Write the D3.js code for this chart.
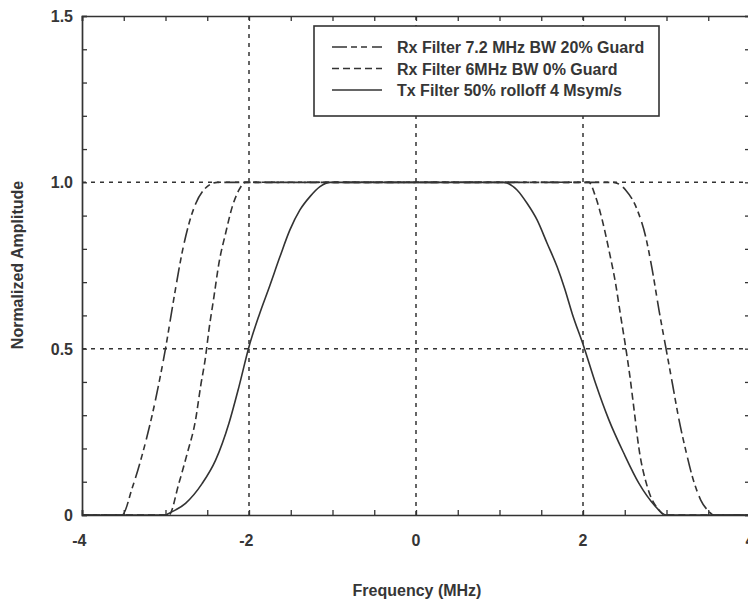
<!DOCTYPE html>
<meta charset="utf-8">
<script src="https://d3js.org/d3.v7.min.js"></script>
<style>
  body { margin: 0; background: #fff; }
  text { font-family: "Liberation Sans", Arial, sans-serif; fill: #363636; }
</style>
<div id="chart"></div>
<script>
  // data: [frequency MHz, normalized amplitude]
  var rx72 = [[-4, 0], [-3.52, 0], [-3.40, 0.08], [-3.28, 0.18], [-3.16, 0.30], [-3.06, 0.42], [-3.00, 0.50],
    [-2.94, 0.59], [-2.88, 0.68], [-2.80, 0.79], [-2.72, 0.875], [-2.64, 0.935], [-2.52, 0.983], [-2.38, 1.0],
    [2.36, 1.0], [2.51, 0.977], [2.65, 0.917], [2.75, 0.837], [2.83, 0.736], [2.91, 0.616], [2.99, 0.506],
    [3.07, 0.396], [3.15, 0.286], [3.23, 0.195], [3.31, 0.115], [3.41, 0.045], [3.51, 0.010], [3.56, 0], [4, 0]];
  var rx6 = [[-4, 0], [-2.96, 0], [-2.84, 0.095], [-2.74, 0.185], [-2.64, 0.286], [-2.58, 0.386], [-2.52, 0.476],
    [-2.48, 0.556], [-2.42, 0.656], [-2.36, 0.757], [-2.28, 0.847], [-2.20, 0.927], [-2.12, 0.977], [-2.04, 1.0],
    [2.07, 1.0], [2.15, 0.957], [2.23, 0.887], [2.31, 0.797], [2.39, 0.696], [2.45, 0.60], [2.51, 0.506],
    [2.56, 0.42], [2.61, 0.32], [2.67, 0.20], [2.77, 0.085], [2.91, 0.015], [2.98, 0], [4, 0]];
  var tx = [[-4, 0], [-3.0, 0], [-2.96, 0.005], [-2.76, 0.035], [-2.56, 0.095], [-2.40, 0.165], [-2.24, 0.276],
    [-2.12, 0.386], [-2.00, 0.506], [-1.88, 0.60], [-1.75, 0.69], [-1.63, 0.776], [-1.51, 0.857], [-1.39, 0.917],
    [-1.27, 0.957], [-1.15, 0.987], [-1.03, 1.0], [1.05, 1.0], [1.21, 0.977], [1.33, 0.937], [1.45, 0.887],
    [1.57, 0.817], [1.69, 0.746], [1.78, 0.681], [1.87, 0.606], [2.01, 0.506], [2.15, 0.396], [2.31, 0.286],
    [2.49, 0.185], [2.67, 0.095], [2.87, 0.025], [2.95, 0.005], [3.0, 0], [4, 0]];

  var seriesNames = ["Rx Filter 7.2 MHz BW 20% Guard", "Rx Filter 6MHz BW 0% Guard", "Tx Filter 50% rolloff 4 Msym/s"];
  var seriesDash = ["15,4,6,4,6,5", "7,4", null];

  var xTicks = [-4, -2, 0, 2, 4];
  var xTickLabels = ["-4", "-2", "0", "2", "4"];
  var yTicks = [0, 0.5, 1.0, 1.5];
  var yTickLabels = ["0", "0.5", "1.0", "1.5"];
  var xGrid = [-2, 0, 2];
  var yGrid = [0.5, 1.0];

  var width = 748, height = 601;
  var margin = { top: 16, left: 82 };
  var plotW = 668, plotH = 499;

  var svg = d3.select("#chart").append("svg")
    .attr("width", width)
    .attr("height", height);

  var x = d3.scaleLinear().domain([-4, 4]).range([margin.left, margin.left + plotW]);
  var y = d3.scaleLinear().domain([0, 1.5]).range([margin.top + plotH, margin.top]);

  var ink = "#333";

  // grid lines
  svg.append("g").selectAll("line").data(xGrid).enter().append("line")
    .attr("x1", function (d) { return x(d); }).attr("x2", function (d) { return x(d); })
    .attr("y1", y(0)).attr("y2", y(1.5))
    .style("stroke", ink).style("stroke-width", 1.5).style("stroke-dasharray", "4,5");
  svg.append("g").selectAll("line").data(yGrid).enter().append("line")
    .attr("y1", function (d) { return y(d); }).attr("y2", function (d) { return y(d); })
    .attr("x1", x(-4)).attr("x2", x(4))
    .style("stroke", ink).style("stroke-width", 1.5).style("stroke-dasharray", "4,5");

  // minor tick axes, ticks pointing inward
  var xMinor = d3.range(-4, 4.001, 0.5);
  var yMinor = d3.range(0, 1.501, 0.1);
  var gB = svg.append("g").attr("transform", "translate(0," + y(0) + ")")
    .call(d3.axisBottom(x).tickValues(xMinor).tickSize(-5).tickFormat(""));
  var gT = svg.append("g").attr("transform", "translate(0," + y(1.5) + ")")
    .call(d3.axisTop(x).tickValues(xMinor).tickSize(-5).tickFormat(""));
  var gL = svg.append("g").attr("transform", "translate(" + x(-4) + ",0)")
    .call(d3.axisLeft(y).tickValues(yMinor).tickSize(-5).tickFormat(""));
  var gR = svg.append("g").attr("transform", "translate(" + x(4) + ",0)")
    .call(d3.axisRight(y).tickValues(yMinor).tickSize(-5).tickFormat(""));
  [gB, gT, gL, gR].forEach(function (g) {
    g.select(".domain").style("stroke", ink).style("stroke-width", 1.7);
    g.selectAll(".tick line").style("stroke", ink).style("stroke-width", 1.3);
  });

  // tick labels
  svg.append("g").selectAll("text").data(xTicks).enter().append("text")
    .attr("x", function (d) { return x(d) + 4.5; })
    .attr("y", y(0) + 31)
    .attr("text-anchor", "end")
    .style("font-size", "16px").style("font-weight", "bold")
    .text(function (d, i) { return xTickLabels[i]; });
  svg.append("g").selectAll("text").data(yTicks).enter().append("text")
    .attr("x", x(-4) - 9)
    .attr("y", function (d) { return y(d) + 6; })
    .attr("text-anchor", "end")
    .style("font-size", "16px").style("font-weight", "bold")
    .text(function (d, i) { return yTickLabels[i]; });

  // axis titles
  svg.append("text")
    .attr("x", 417).attr("y", 596)
    .attr("text-anchor", "middle")
    .style("font-size", "16px").style("font-weight", "bold")
    .text("Frequency (MHz)");
  svg.append("text")
    .attr("transform", "translate(23,265) rotate(-90)")
    .attr("text-anchor", "middle")
    .style("font-size", "16px").style("font-weight", "bold")
    .text("Normalized Amplitude");

  // curves
  var line = d3.line()
    .x(function (d) { return x(d[0]); })
    .y(function (d) { return y(d[1]); })
    .curve(d3.curveMonotoneX);
  var allSeries = [rx72, rx6, tx];
  svg.append("g").selectAll("path").data(allSeries).enter().append("path")
    .attr("d", line)
    .style("fill", "none")
    .style("stroke", ink)
    .style("stroke-width", 1.6)
    .style("stroke-dasharray", function (d, i) { return seriesDash[i]; });

  // legend
  var legend = svg.append("g").attr("transform", "translate(314,26)");
  legend.append("rect")
    .attr("width", 345).attr("height", 90)
    .style("fill", "#fff").style("stroke", ink).style("stroke-width", 1.6);
  var rows = legend.selectAll(".row").data(seriesNames).enter().append("g")
    .attr("class", "row")
    .attr("transform", function (d, i) { return "translate(0," + (21 + i * 21.5) + ")"; });
  rows.append("line")
    .attr("x1", 18).attr("x2", 68)
    .style("stroke", ink).style("stroke-width", 1.5)
    .style("stroke-dasharray", function (d, i) { return seriesDash[i]; });
  rows.append("text")
    .attr("x", 83).attr("y", 6)
    .style("font-size", "16px").style("font-weight", "bold")
    .text(function (d) { return d; });
</script>
